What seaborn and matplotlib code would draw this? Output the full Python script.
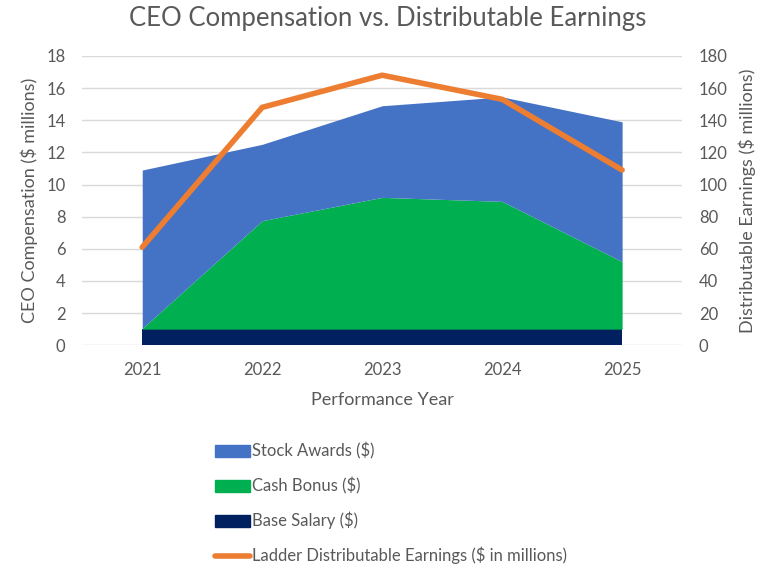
import matplotlib
matplotlib.use("Agg")
import matplotlib.pyplot as plt
import seaborn as sns
import pandas as pd
from matplotlib.patches import Patch
from matplotlib.lines import Line2D

years = ["2021", "2022", "2023", "2024", "2025"]
base_salary = [1.0, 1.0, 1.0, 1.0, 1.0]
cash_bonus = [0.05, 6.75, 8.2, 7.95, 4.2]
stock_awards = [9.85, 4.75, 5.7, 6.5, 8.7]
earnings = [61, 148, 168, 153, 109]

df = pd.DataFrame({"year": years, "earnings": earnings})

sns.set_theme(style="white")
plt.rcParams["font.family"] = ["Lato", "DejaVu Sans"]
grey = "#595959"

fig = plt.figure(figsize=(7.76, 5.65), dpi=100)
ax = fig.add_axes([0.106, 0.389, 0.773, 0.512])
x = list(range(len(years)))
ax.stackplot(x, base_salary, cash_bonus, stock_awards,
             colors=["#002060", "#00B050", "#4472C4"], linewidth=0)
ax.set_ylim(0, 18)
ax.set_yticks(range(0, 19, 2))
ax.set_xlim(-0.5, 4.5)
ax.set_xticks(x)
ax.set_xticklabels(years)
ax.grid(axis="y", color="#d9d9d9", linewidth=1)
ax.set_axisbelow(True)
for s in ax.spines.values():
    s.set_visible(False)
ax.tick_params(colors=grey, labelsize=12, length=0)
ax.tick_params(axis="y", pad=12)
ax.tick_params(axis="x", pad=12)
ax.set_ylabel("CEO Compensation ($ millions)", color=grey, fontsize=13, labelpad=6)
ax.set_xlabel("Performance Year", color=grey, fontsize=13, labelpad=10)

ax2 = ax.twinx()
sns.lineplot(x=x, y=df["earnings"], ax=ax2, color="#ED7D31", linewidth=4)
ax2.set_ylim(0, 180)
ax2.set_yticks(range(0, 181, 20))
ax2.grid(False)
for s in ax2.spines.values():
    s.set_visible(False)
ax2.tick_params(colors=grey, labelsize=12, length=0, pad=12)
ax2.set_ylabel("Distributable Earnings ($ millions)", color=grey, fontsize=13, labelpad=8)

fig.suptitle("CEO Compensation vs. Distributable Earnings", color=grey,
             fontsize=18.5, y=0.99)

handles = [Patch(color="#4472C4"), Patch(color="#00B050"), Patch(color="#002060"),
           Line2D([], [], color="#ED7D31", linewidth=4)]
labels = ["Stock Awards ($)", "Cash Bonus ($)", "Base Salary ($)",
          "Ladder Distributable Earnings ($ in millions)"]
leg = fig.legend(handles, labels, loc="upper left", bbox_to_anchor=(0.268, 0.228),
                 frameon=False, fontsize=12, labelspacing=1.05, handlelength=2.1,
                 handleheight=0.75, handletextpad=0.15, borderaxespad=0)
for t in leg.get_texts():
    t.set_color(grey)

fig.savefig("out.png", dpi=100)
